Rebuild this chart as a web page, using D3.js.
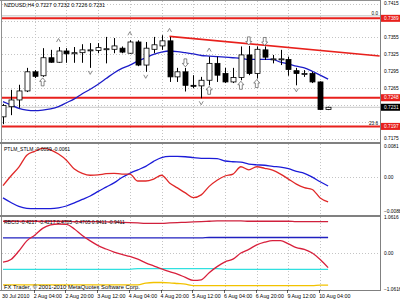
<!DOCTYPE html>
<html>
<head>
<meta charset="utf-8">
<script src="https://cdn.jsdelivr.net/npm/d3@7/dist/d3.min.js"></script>
<style>
  body { margin: 0; background: #fff; }
  text { font-family: "Liberation Sans", Arial, sans-serif; }
</style>
</head>
<body>
<div id="chart"></div>
<script>
// H4 bars, 30 Jul 12:00 .. 10 Aug 08:00
var opens  = [0.7214,0.7232,0.7244,0.7260,0.7294,0.7287,0.7319,0.7311,0.7331,0.7326,0.7328,0.7332,0.7332,0.7334,0.7334,0.7336,0.7327,0.7347,0.7306,0.7334,0.7340,0.7349,0.7285,0.7294,0.7270,0.7269,0.7279,0.7309,0.7291,0.7276,0.7284,0.7324,0.7291,0.7333,0.7316,0.7316,0.7316,0.7296,0.7291,0.7291,0.7276,0.7227];
var highs  = [0.7237,0.7262,0.7271,0.7301,0.7297,0.7336,0.7333,0.7338,0.7336,0.7338,0.7343,0.7345,0.7345,0.7356,0.7354,0.7339,0.7350,0.7350,0.7347,0.7356,0.7359,0.7356,0.7301,0.7301,0.7288,0.7285,0.7321,0.7321,0.7301,0.7301,0.7339,0.7340,0.7339,0.7339,0.7324,0.7333,0.7321,0.7301,0.7297,0.7294,0.7277,0.7232];
var lows   = [0.7201,0.7217,0.7230,0.7258,0.7283,0.7285,0.7310,0.7310,0.7310,0.7310,0.7310,0.7301,0.7327,0.7309,0.7327,0.7327,0.7326,0.7304,0.7294,0.7327,0.7333,0.7276,0.7276,0.7259,0.7265,0.7247,0.7270,0.7276,0.7274,0.7274,0.7279,0.7288,0.7282,0.7315,0.7309,0.7306,0.7287,0.7270,0.7285,0.7274,0.7226,0.7226];
var closes = [0.7234,0.7244,0.7260,0.7294,0.7286,0.7319,0.7311,0.7331,0.7326,0.7328,0.7333,0.7333,0.7337,0.7335,0.7340,0.7329,0.7347,0.7306,0.7336,0.7342,0.7349,0.7285,0.7294,0.7270,0.7269,0.7279,0.7309,0.7288,0.7276,0.7284,0.7324,0.7291,0.7334,0.7320,0.7317,0.7317,0.7298,0.7291,0.7291,0.7276,0.7227,0.7231];
var ma     = [0.7241,0.7235,0.7229,0.7226,0.7225,0.7226,0.7228,0.7232,0.7239,0.7246,0.7255,0.7263,0.7272,0.7282,0.7292,0.7300,0.7306,0.7313,0.7319,0.7325,0.7329,0.7331,0.7330,0.7328,0.7326,0.7323,0.7322,0.7321,0.7320,0.7319,0.7318,0.7316,0.7316,0.7316,0.7316,0.7311,0.7308,0.7304,0.7301,0.7295,0.7288,0.7281];

var timeLabels = ["30 Jul 2010","2 Aug 04:00","2 Aug 20:00","3 Aug 12:00","4 Aug 04:00","4 Aug 20:00","5 Aug 12:00","6 Aug 04:00","6 Aug 20:00","9 Aug 12:00","10 Aug 04:00"];
var timeLabelBars = [0,4,8,12,16,20,24,28,32,36,40];

var priceTicks = [0.7415,0.7385,0.7355,0.7325,0.7295,0.7265,0.7235,0.7205,0.7175];
var levels = [0.7389,0.7248,0.7197];
var lastPrice = 0.7231;
var trendBars = [21,47.5];
var trendPrices = [0.7357,0.7322];

// markers
var hatBars = [7,16,21,26];
var veeBars = [11,18,25,37];
var downArrowBars = [23,31,33];
var upArrowBars = [5,26,30,32];

// PTLM_STLM
var ptlm = [-0.0022,0.0003,0.0026,0.0057,0.0067,0.0075,0.0071,0.0060,0.0044,0.0021,0.0010,0.0005,0.0006,0.0009,0.0010,0.0008,0.0008,-0.0010,-0.0010,-0.0005,0.0005,-0.0015,-0.0028,-0.0041,-0.0053,-0.0046,-0.0024,-0.0008,0.0003,0.0008,0.0027,0.0019,0.0027,0.0023,0.0018,0.0008,-0.0005,-0.0018,-0.0027,-0.0032,-0.0054,-0.0064];
var stlm = [-0.0054,-0.0066,-0.0076,-0.0081,-0.0082,-0.0082,-0.0082,-0.0080,-0.0075,-0.0067,-0.0058,-0.0049,-0.0037,-0.0026,-0.0015,-0.0001,0.0010,0.0019,0.0028,0.0041,0.0051,0.0054,0.0054,0.0053,0.0051,0.0049,0.0049,0.0048,0.0042,0.0040,0.0039,0.0034,0.0032,0.0031,0.0028,0.0026,0.0022,0.0015,0.0010,0.0000,-0.0012,-0.0023];
var ptlmTicks = [0.0081,0,-0.0088];

// RBCI3
var rbci = [-0.26,-0.18,0.07,0.37,0.54,0.74,0.84,0.87,0.86,0.72,0.53,0.37,0.23,0.13,0.04,-0.03,-0.09,-0.17,-0.28,-0.37,-0.46,-0.54,-0.61,-0.71,-0.80,-0.78,-0.57,-0.39,-0.25,-0.17,0.01,0.12,0.25,0.33,0.38,0.38,0.28,0.17,0.12,0.01,-0.18,-0.42];
var rbciTop = [0.95,0.95,0.95,0.95,0.95,0.95,0.95,0.95,0.95,0.94,0.94,0.94,0.94,0.93,0.93,0.92,0.91,0.90,0.89,0.89,0.89,0.90,0.91,0.92,0.93,0.94,0.95,0.96,0.96,0.96,0.96,0.95,0.95,0.95,0.95,0.95,0.95,0.94,0.94,0.94,0.94,0.94];
var rbciMid = [0.46,0.46,0.46,0.46,0.46,0.46,0.46,0.46,0.46,0.46,0.46,0.46,0.46,0.46,0.46,0.46,0.46,0.46,0.46,0.46,0.46,0.46,0.46,0.46,0.46,0.46,0.47,0.47,0.47,0.47,0.47,0.47,0.47,0.47,0.47,0.47,0.47,0.47,0.47,0.47,0.47,0.47];
var rbciLow = [-0.47,-0.47,-0.47,-0.47,-0.47,-0.47,-0.47,-0.47,-0.47,-0.47,-0.47,-0.47,-0.47,-0.47,-0.47,-0.47,-0.47,-0.45,-0.45,-0.45,-0.45,-0.45,-0.45,-0.45,-0.45,-0.45,-0.45,-0.45,-0.47,-0.47,-0.47,-0.47,-0.47,-0.47,-0.47,-0.47,-0.47,-0.47,-0.47,-0.47,-0.47,-0.47];
var rbciBottom = [-0.93,-0.93,-0.93,-0.93,-0.93,-0.93,-0.93,-0.93,-0.93,-0.93,-0.93,-0.93,-0.93,-0.93,-0.93,-0.93,-0.93,-0.93,-0.88,-0.86,-0.86,-0.87,-0.89,-0.91,-0.95,-0.95,-0.95,-0.95,-0.95,-0.95,-0.95,-0.95,-0.95,-0.95,-0.95,-0.95,-0.95,-0.95,-0.95,-0.95,-0.94,-0.94];
var rbciTicks = [1.0616,0,-1.0616];

var width = 400, height = 300;
var left = 2, right = 380;
var p1 = {top: 1, bottom: 142}, p2 = {top: 144, bottom: 215}, p3 = {top: 217, bottom: 290};

var svg = d3.select("#chart").append("svg")
    .attr("width", width)
    .attr("height", height)
    .style("display", "block");

svg.append("rect").attr("width", width).attr("height", height).attr("fill", "#fff");

var x = d3.scaleLinear().domain([0, 41]).range([3, 328.1]);
var y1 = d3.scaleLinear().domain([0.7175, 0.7415]).range([138.8, 3.7]);
var y2 = d3.scaleLinear().domain([-0.0088, 0.0081]).range([211, 146]);
var y3 = d3.scaleLinear().domain([-1.0616, 1.0616]).range([289.3, 217.5]);

var gridColor = "#c4c4c4";
var fmt4 = d3.format(".4f");

// clip paths per panel
[p1, p2, p3].forEach(function (p, i) {
    svg.append("clipPath").attr("id", "clip" + i)
        .append("rect")
        .attr("x", left).attr("y", p.top)
        .attr("width", right - left).attr("height", p.bottom - p.top);
});

// vertical grid in each panel
[p1, p2, p3].forEach(function (p) {
    svg.append("g").selectAll("line")
        .data(timeLabelBars.slice(1))
        .enter().append("line")
        .attr("x1", d => Math.round(x(d)) + 0.5)
        .attr("x2", d => Math.round(x(d)) + 0.5)
        .attr("y1", p.top).attr("y2", p.bottom)
        .attr("stroke", gridColor)
        .attr("stroke-dasharray", "1,2");
});

// horizontal grid
svg.append("g").selectAll("line")
    .data(priceTicks)
    .enter().append("line")
    .attr("x1", left).attr("x2", right)
    .attr("y1", d => Math.round(y1(d)) + 0.5)
    .attr("y2", d => Math.round(y1(d)) + 0.5)
    .attr("stroke", gridColor)
    .attr("stroke-dasharray", "1,2");

svg.append("line")
    .attr("x1", left).attr("x2", right)
    .attr("y1", Math.round(y2(0)) + 0.5).attr("y2", Math.round(y2(0)) + 0.5)
    .attr("stroke", gridColor).attr("stroke-dasharray", "1,2");

svg.append("line")
    .attr("x1", left).attr("x2", right)
    .attr("y1", Math.round(y3(0)) + 0.5).attr("y2", Math.round(y3(0)) + 0.5)
    .attr("stroke", gridColor).attr("stroke-dasharray", "1,2");

// ---------- main panel ----------
var main = svg.append("g").attr("clip-path", "url(#clip0)");

// thin grey line above the top level
main.append("line")
    .attr("x1", left).attr("x2", right)
    .attr("y1", y1(levels[0]) - 2.5).attr("y2", y1(levels[0]) - 2.5)
    .attr("stroke", "#b0b0b0").attr("stroke-width", 0.8);

// bid line
main.append("line")
    .attr("x1", left).attr("x2", right)
    .attr("y1", y1(lastPrice)).attr("y2", y1(lastPrice))
    .attr("stroke", "#c8c8c8").attr("stroke-width", 1);

main.selectAll(".level")
    .data(levels)
    .enter().append("line")
    .attr("class", "level")
    .attr("x1", left).attr("x2", right)
    .attr("y1", d => y1(d)).attr("y2", d => y1(d))
    .attr("stroke", "#e8201c")
    .attr("stroke-width", 2);

main.append("path")
    .datum(ma)
    .attr("fill", "none")
    .attr("stroke", "#1c1cc8")
    .attr("stroke-width", 1.3)
    .attr("d", d3.line().x((d, i) => x(i)).y(d => y1(d)).curve(d3.curveMonotoneX));

main.append("line")
    .attr("x1", x(trendBars[0])).attr("x2", x(trendBars[1]))
    .attr("y1", y1(trendPrices[0])).attr("y2", y1(trendPrices[1]))
    .attr("stroke", "#e8201c")
    .attr("stroke-width", 1.6);

var bars = opens.map(function (o, i) {
    return {i: i, o: o, h: highs[i], l: lows[i], c: closes[i]};
});

var candles = main.selectAll(".candle")
    .data(bars)
    .enter().append("g")
    .attr("class", "candle");

candles.append("line")
    .attr("x1", d => Math.round(x(d.i)) + 0.5)
    .attr("x2", d => Math.round(x(d.i)) + 0.5)
    .attr("y1", d => y1(d.h))
    .attr("y2", d => y1(d.l))
    .attr("stroke", "#000")
    .attr("stroke-width", 1);

candles.append("rect")
    .attr("x", d => Math.round(x(d.i)) - 2)
    .attr("y", d => y1(Math.max(d.o, d.c)))
    .attr("width", 5)
    .attr("height", d => Math.max(1, y1(Math.min(d.o, d.c)) - y1(Math.max(d.o, d.c))))
    .attr("fill", d => d.c >= d.o ? "#fff" : "#000")
    .attr("stroke", "#000")
    .attr("stroke-width", 0.8);

// chevrons above highs
main.selectAll(".hat")
    .data(hatBars)
    .enter().append("path")
    .attr("class", "hat")
    .attr("transform", d => "translate(" + x(d) + "," + (y1(highs[d]) - 7) + ")")
    .attr("d", "M-2,2L0,-1.5L2,2")
    .attr("fill", "none").attr("stroke", "#707070").attr("stroke-width", 0.8);

main.selectAll(".vee")
    .data(veeBars)
    .enter().append("path")
    .attr("class", "vee")
    .attr("transform", d => "translate(" + x(d) + "," + (y1(lows[d]) + 5) + ")")
    .attr("d", "M-2,-2L0,1.5L2,-2")
    .attr("fill", "none").attr("stroke", "#707070").attr("stroke-width", 0.8);

var arrowUp = "M0,0L3,3.5L1.4,3.5L1.4,8L-1.4,8L-1.4,3.5L-3,3.5Z";
var arrowDown = "M0,0L3,-3.5L1.4,-3.5L1.4,-8L-1.4,-8L-1.4,-3.5L-3,-3.5Z";

main.selectAll(".up")
    .data(upArrowBars)
    .enter().append("path")
    .attr("class", "up")
    .attr("transform", d => "translate(" + x(d) + "," + (y1(lows[d]) + 1) + ")")
    .attr("d", arrowUp)
    .attr("fill", "#fff").attr("stroke", "#555").attr("stroke-width", 0.7);

main.selectAll(".down")
    .data(downArrowBars)
    .enter().append("path")
    .attr("class", "down")
    .attr("transform", d => "translate(" + x(d) + "," + (y1(highs[d]) - 1) + ")")
    .attr("d", arrowDown)
    .attr("fill", "#fff").attr("stroke", "#555").attr("stroke-width", 0.7);

// fib level captions
svg.append("text").attr("x", 378).attr("y", y1(levels[0]) - 3)
    .attr("text-anchor", "end").style("font-size", "4.6px").text("0.0");
svg.append("text").attr("x", 378).attr("y", y1(levels[2]) - 1.5)
    .attr("text-anchor", "end").style("font-size", "4.6px").text("23.6");

svg.append("text").attr("x", 4).attr("y", 7)
    .style("font-size", "5.3px").text("NZDUSD,H4  0.7227 0.7232 0.7226 0.7231");

// ---------- PTLM_STLM ----------
var g2 = svg.append("g").attr("clip-path", "url(#clip1)");
var line2 = d3.line().x((d, i) => x(i)).y(d => y2(d)).curve(d3.curveMonotoneX);
g2.append("path").datum(stlm).attr("fill", "none").attr("stroke", "#1c1cd8").attr("stroke-width", 1.3).attr("d", line2);
g2.append("path").datum(ptlm).attr("fill", "none").attr("stroke", "#e02828").attr("stroke-width", 1.3).attr("d", line2);
svg.append("text").attr("x", 4).attr("y", 150.5)
    .style("font-size", "5px").text("PTLM_STLM -0.0059 -0.0061");

// ---------- RBCI3 ----------
var g3 = svg.append("g").attr("clip-path", "url(#clip2)");
var line3 = d3.line().x((d, i) => x(i)).y(d => y3(d)).curve(d3.curveMonotoneX);
[[rbciBottom, "#f2c200"], [rbciLow, "#30e0e0"], [rbciMid, "#2020c0"], [rbciTop, "#d0203c"], [rbci, "#d8203c"]]
    .forEach(function (s) {
        g3.append("path").datum(s[0]).attr("fill", "none")
            .attr("stroke", s[1]).attr("stroke-width", 1.3).attr("d", line3);
    });
svg.append("text").attr("x", 4).attr("y", 223.5)
    .style("font-size", "5px").text("RBCI3 -0.4217 -0.4217 0.4705 -0.4705 0.9411 -0.9411");
svg.append("text").attr("x", 4).attr("y", 288.5)
    .style("font-size", "5.8px").text("FX Trader, \u00a9 2001-2010 MetaQuotes Software Corp.");

// ---------- frames ----------
svg.append("line").attr("x1", 0).attr("x2", right).attr("y1", 0.5).attr("y2", 0.5).attr("stroke", "#909090");
svg.append("line").attr("x1", 1.5).attr("x2", 1.5).attr("y1", 0).attr("y2", p3.bottom).attr("stroke", "#909090");
svg.append("line").attr("x1", right + 0.5).attr("x2", right + 0.5).attr("y1", 0).attr("y2", p3.bottom).attr("stroke", "#808080");
[143, 216].forEach(function (yy) {
    svg.append("line").attr("x1", 0).attr("x2", right).attr("y1", yy).attr("y2", yy)
        .attr("stroke", "#808080").attr("stroke-width", 2);
});
svg.append("line").attr("x1", 0).attr("x2", right + 1).attr("y1", p3.bottom + 0.5).attr("y2", p3.bottom + 0.5).attr("stroke", "#808080");

// ---------- right axis ----------
var axisFont = "4.8px";
var tagged = levels.concat([lastPrice]);
svg.append("g").selectAll("text")
    .data(priceTicks.filter(t => tagged.every(v => Math.abs(y1(v) - y1(t)) > 6)))
    .enter().append("text")
    .attr("x", 384).attr("y", d => y1(d)).attr("dy", "0.35em")
    .style("font-size", axisFont)
    .text(d => fmt4(d));

function tag(v, bg) {
    var yy = y1(v);
    svg.append("rect").attr("x", 381).attr("y", yy - 3.5).attr("width", 19).attr("height", 7).attr("fill", bg);
    svg.append("text").attr("x", 384).attr("y", yy).attr("dy", "0.35em")
        .attr("fill", "#fff").style("font-size", axisFont).text(fmt4(v));
}
levels.forEach(v => tag(v, "#e8201c"));
tag(lastPrice, "#000");

svg.append("g").selectAll("text")
    .data(ptlmTicks)
    .enter().append("text")
    .attr("x", 384).attr("y", d => y2(d)).attr("dy", "0.35em")
    .style("font-size", axisFont)
    .text(d => d === 0 ? "0.00" : fmt4(d));

svg.append("g").selectAll("text")
    .data(rbciTicks)
    .enter().append("text")
    .attr("x", 384).attr("y", d => y3(d)).attr("dy", "0.35em")
    .style("font-size", axisFont)
    .text(d => d === 0 ? "0.00" : fmt4(d));

// ---------- time axis ----------
svg.append("g").selectAll("text")
    .data(timeLabelBars)
    .enter().append("text")
    .attr("x", (d, i) => i === 0 ? 2 : x(d) - 1)
    .attr("y", 297.8)
    .style("font-size", "5.3px")
    .text((d, i) => timeLabels[i]);
svg.append("g").selectAll("line")
    .data(timeLabelBars.slice(1))
    .enter().append("line")
    .attr("x1", d => Math.round(x(d)) - 0.5).attr("x2", d => Math.round(x(d)) - 0.5)
    .attr("y1", p3.bottom).attr("y2", p3.bottom + 3)
    .attr("stroke", "#000").attr("stroke-width", 0.6);
</script>
</body>
</html>
